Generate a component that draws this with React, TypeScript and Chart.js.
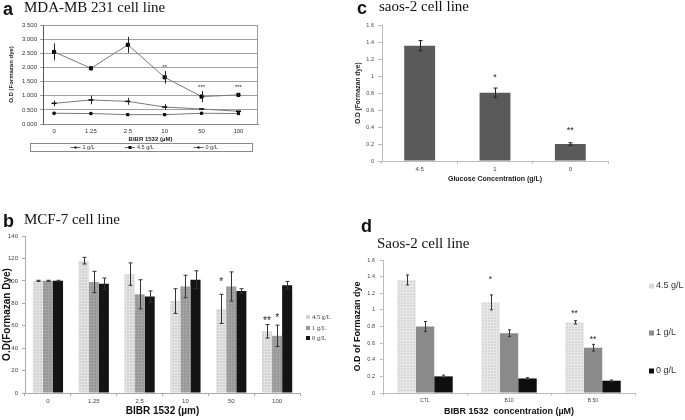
import React, { useEffect, useRef } from 'react';
import { Chart, registerables } from 'chart.js';
Chart.register(...registerables);
Chart.defaults.font.family = '"Liberation Sans", Arial, sans-serif';

// ---------- Panel a: MDA-MB 231 (line chart) ----------
const aCategories = ['0', '1.25', '2.5', '10', '50', '100'];
const aLabels = ['1 g/L', '4.5 g/L', '0 g/L'];
const a1g = [0.73, 0.85, 0.8, 0.6, 0.53, 0.45];
const a1gErr = [0.1, 0.15, 0.12, 0.1, 0.03, 0.03];
const a45g = [2.55, 1.97, 2.8, 1.65, 0.97, 1.03];
const a45gErr = [0.3, 0.08, 0.28, 0.22, 0.2, 0.06];
const a0g = [0.38, 0.37, 0.33, 0.33, 0.38, 0.37];
const a0gErr = [0.03, 0.03, 0.03, 0.03, 0.02, 0.02];
const aYTicks = [0, 0.5, 1, 1.5, 2, 2.5, 3, 3.5];
const aStars = [
  { ds: 1, i: 3, v: 1.99, text: '**' },
  { ds: 1, i: 4, v: 1.28, text: '***' },
  { ds: 1, i: 5, v: 1.28, text: '***' },
];

// ---------- Panel b: MCF-7 (grouped bars) ----------
const bCategories = ['0', '1.25', '2.5', '10', '50', '100'];
const bLabels = ['4.5 g/L', '1 g/L', '0 g/L'];
const b45 = [100, 118, 106, 82, 75, 55];
const b45Err = [0.5, 3, 10, 11, 13, 6];
const b1 = [100, 99, 88, 95, 95, 51];
const b1Err = [0.5, 9.5, 13, 10, 13, 9.5];
const b0 = [100, 97.5, 86, 101, 91, 96];
const b0Err = [0.5, 5, 5, 8, 2, 3.5];
const bStars = [
  { ds: 0, i: 4, v: 99, text: '*' },
  { ds: 0, i: 5, v: 64, text: '**' },
  { ds: 1, i: 5, v: 67, text: '*' },
];

// ---------- Panel c: saos-2 glucose ----------
const cCategories = ['4.5', '1', '0'];
const cValues = [1.36, 0.805, 0.2];
const cErr = [0.06, 0.055, 0.015];
const cStars = [
  { ds: 0, i: 1, v: 0.99, text: '*' },
  { ds: 0, i: 2, v: 0.36, text: '**' },
];

// ---------- Panel d: Saos-2 BIBR ----------
const dCategories = ['CTL', 'B10', 'B 50'];
const dLabels = ['4.5 g/L', '1 g/L', '0 g/L'];
const d45 = [1.36, 1.09, 0.85];
const d45Err = [0.06, 0.09, 0.02];
const d1 = [0.8, 0.72, 0.545];
const d1Err = [0.06, 0.04, 0.04];
const d0 = [0.2, 0.175, 0.148];
const d0Err = [0.015, 0.01, 0.008];
const dStars = [
  { ds: 0, i: 1, v: 1.36, text: '*' },
  { ds: 0, i: 2, v: 0.96, text: '**' },
  { ds: 1, i: 2, v: 0.64, text: '**' },
];

const SANS = '"Liberation Sans", Arial, sans-serif';
const SERIF = '"Liberation Serif", "Times New Roman", serif';

// ---------- plugins ----------
const errorBars = {
  id: 'errorBars',
  afterDatasetsDraw(chart: any, _a: any, opts: any) {
    const { ctx } = chart;
    const ys = chart.scales.y;
    ctx.save();
    ctx.strokeStyle = opts.color || '#000';
    ctx.lineWidth = opts.width || 1;
    chart.data.datasets.forEach((ds: any, di: number) => {
      if (!ds.errors) return;
      const meta = chart.getDatasetMeta(di);
      meta.data.forEach((el: any, i: number) => {
        const raw = ds.data[i];
        const v = typeof raw === 'number' ? raw : raw.y;
        const e = ds.errors[i];
        const x = Math.round(el.x) + 0.5;
        const y1 = ys.getPixelForValue(v + e);
        const y2 = ys.getPixelForValue(v - e);
        const c = opts.cap || 0;
        ctx.beginPath();
        ctx.moveTo(x, y1);
        ctx.lineTo(x, y2);
        if (c) {
          ctx.moveTo(x - c, y1);
          ctx.lineTo(x + c, y1);
          ctx.moveTo(x - c, y2);
          ctx.lineTo(x + c, y2);
        }
        ctx.stroke();
      });
    });
    ctx.restore();
  },
};

const starsPlugin = {
  id: 'stars',
  afterDatasetsDraw(chart: any, _a: any, opts: any) {
    const items = opts.items || [];
    const { ctx } = chart;
    const ys = chart.scales.y;
    ctx.save();
    ctx.font = opts.font || `10px ${SANS}`;
    ctx.fillStyle = opts.color || '#111';
    ctx.textAlign = 'center';
    ctx.textBaseline = 'middle';
    items.forEach((s: any) => {
      const el = chart.getDatasetMeta(s.ds).data[s.i];
      ctx.fillText(s.text, el.x, ys.getPixelForValue(s.v));
    });
    ctx.restore();
  },
};

const sideLegend = {
  id: 'sideLegend',
  afterDraw(chart: any, _a: any, opts: any) {
    if (!opts.ys) return;
    const { ctx } = chart;
    ctx.save();
    ctx.font = opts.font;
    ctx.textBaseline = 'middle';
    ctx.textAlign = 'left';
    chart.data.datasets.forEach((ds: any, k: number) => {
      const y = opts.ys[k];
      ctx.fillStyle = ds.legendColor;
      ctx.fillRect(opts.x, y - opts.box / 2, opts.box, opts.box);
      ctx.fillStyle = opts.color || '#222';
      ctx.fillText(ds.label, opts.x + opts.box + opts.gap, y);
    });
    ctx.restore();
  },
};

const lineLegend = {
  id: 'lineLegend',
  afterDraw(chart: any, _a: any, opts: any) {
    if (!opts.box) return;
    const { ctx } = chart;
    const [x0, y0, x1, y1] = opts.box;
    ctx.save();
    ctx.strokeStyle = '#8a8a8a';
    ctx.lineWidth = 1;
    ctx.strokeRect(x0 + 0.5, y0 + 0.5, x1 - x0, y1 - y0);
    const cy = (y0 + y1) / 2 + 0.5;
    ctx.font = opts.font;
    ctx.textBaseline = 'middle';
    chart.data.datasets.forEach((ds: any, k: number) => {
      const cx = opts.xs[k];
      ctx.strokeStyle = '#666';
      ctx.beginPath();
      ctx.moveTo(cx - 5, cy);
      ctx.lineTo(cx + 5, cy);
      ctx.stroke();
      ctx.fillStyle = '#000';
      const r = ds.legendMarker;
      ctx.fillRect(cx - r, cy - r, r * 2, r * 2);
      ctx.fillStyle = '#333';
      ctx.fillText(ds.label, cx + 7, cy);
    });
    ctx.restore();
  },
};

const framePlugin = {
  id: 'frame',
  afterDraw(chart: any, _a: any, opts: any) {
    if (!opts.color) return;
    const { ctx, chartArea: ca } = chart;
    ctx.save();
    ctx.strokeStyle = opts.color;
    ctx.lineWidth = 1;
    ctx.beginPath();
    ctx.moveTo(Math.round(ca.left) + 0.5, Math.round(ca.top) + 0.5);
    ctx.lineTo(Math.round(ca.right) - 0.5, Math.round(ca.top) + 0.5);
    ctx.lineTo(Math.round(ca.right) - 0.5, Math.round(ca.bottom) + 0.5);
    ctx.stroke();
    ctx.restore();
  },
};

function makePattern(bg: string, line: string) {
  const c = document.createElement('canvas');
  c.width = 3;
  c.height = 3;
  const g = c.getContext('2d')!;
  g.fillStyle = bg;
  g.fillRect(0, 0, 3, 3);
  g.fillStyle = line;
  g.fillRect(0, 0, 3, 1);
  g.fillRect(0, 0, 1, 3);
  return g.createPattern(c, 'repeat');
}

const PLUGINS = [errorBars, starsPlugin, sideLegend, lineLegend, framePlugin];

// ---------- configs ----------
function configA(): any {
  const pts = (arr: number[]) => arr.map((y, i) => ({ x: i, y }));
  return {
    type: 'line',
    data: {
      datasets: [
        {
          label: aLabels[0], data: pts(a1g), errors: a1gErr, borderColor: '#7a7a7a', borderWidth: 1,
          pointStyle: 'line', pointRadius: 2.5, pointBorderColor: '#000', pointBorderWidth: 1.5, legendMarker: 1,
        },
        {
          label: aLabels[1], data: pts(a45g), errors: a45gErr, borderColor: '#7a7a7a', borderWidth: 1,
          pointStyle: 'rect', pointRadius: 2.2, pointBackgroundColor: '#000', pointBorderColor: '#000', legendMarker: 1.5,
        },
        {
          label: aLabels[2], data: pts(a0g), errors: a0gErr, borderColor: '#7a7a7a', borderWidth: 1,
          pointStyle: 'rect', pointRadius: 1.6, pointBackgroundColor: '#000', pointBorderColor: '#000', legendMarker: 1,
        },
      ],
    },
    options: {
      animation: false,
      responsive: false,
      layout: { padding: { left: 0, right: 7, top: 7, bottom: 10 } },
      plugins: {
        legend: { display: false },
        tooltip: { enabled: false },
        errorBars: { color: '#222', width: 1, cap: 0 },
        stars: { items: aStars, font: `6px ${SANS}`, color: '#222' },
        lineLegend: { box: [30, 125, 252, 133], xs: [75.5, 130, 198.5], font: `5.5px ${SANS}` },
        frame: { color: '#9a9a9a' },
      },
      scales: {
        x: {
          type: 'linear', min: -0.3, max: 5.53,
          afterBuildTicks: (s: any) => { s.ticks = aCategories.map((_, i) => ({ value: i })); },
          afterFit: (s: any) => { s.height = 22; },
          ticks: { callback: (v: any) => aCategories[v] ?? '', font: { size: 6 }, color: '#333', padding: 4, maxRotation: 0, autoSkip: false },
          grid: { display: false, drawTicks: false },
          border: { color: '#888' },
          title: { display: true, text: 'BIBR 1532 (µM)', font: { size: 6, weight: 'bold' }, color: '#222', padding: { top: 0, bottom: 3.4 } },
        },
        y: {
          min: 0, max: 3.5,
          afterBuildTicks: (s: any) => { s.ticks = aYTicks.map((v) => ({ value: v })); },
          afterFit: (s: any) => { s.width = 43; },
          ticks: { callback: (v: any) => Number(v).toFixed(3), font: { size: 6 }, color: '#333', padding: 3 },
          grid: { color: '#a0a0a0', tickLength: 3 },
          border: { color: '#555' },
          title: { display: true, text: 'O.D (Formazan dye)', font: { size: 6, weight: 'bold' }, color: '#222', padding: { top: 7.4, bottom: 0 } },
        },
      },
    },
  };
}

function configB(): any {
  return {
    type: 'bar',
    data: {
      labels: bCategories,
      datasets: [
        { label: bLabels[0], data: b45, errors: b45Err, backgroundColor: makePattern('#d2d2d2', '#e4e4e4'), legendColor: '#d4d4d4' },
        { label: bLabels[1], data: b1, errors: b1Err, backgroundColor: makePattern('#969696', '#a4a4a4'), legendColor: '#969696' },
        { label: bLabels[2], data: b0, errors: b0Err, backgroundColor: '#141414', legendColor: '#141414' },
      ],
    },
    options: {
      animation: false,
      responsive: false,
      layout: { padding: { left: 0, right: 40, top: 8, bottom: 0 } },
      datasets: { bar: { categoryPercentage: 0.66, barPercentage: 1 } },
      plugins: {
        legend: { display: false },
        tooltip: { enabled: false },
        errorBars: { color: '#333', width: 1, cap: 2 },
        stars: { items: bStars, font: `10px ${SANS}`, color: '#222' },
        sideLegend: { x: 306, ys: [89, 100, 110], box: 4, gap: 2, font: `6.5px ${SERIF}`, color: '#333' },
      },
      scales: {
        x: {
          afterFit: (s: any) => { s.height = 27; },
          ticks: { font: { size: 6 }, color: '#444', padding: 2, maxRotation: 0 },
          grid: { drawOnChartArea: false, offset: true, tickLength: 3, color: '#aaa' },
          border: { color: '#aaa' },
          title: { display: true, text: 'BIBR 1532 (µm)', font: { size: 10, weight: 'bold' }, color: '#111', padding: { top: 0, bottom: 3 } },
        },
        y: {
          min: 0, max: 140,
          ticks: { stepSize: 20, font: { size: 6 }, color: '#444', padding: 4 },
          afterFit: (s: any) => { s.width = 25; },
          grid: { drawOnChartArea: false, tickLength: 3, color: '#aaa' },
          border: { color: '#aaa' },
          title: { display: true, text: 'O.D(Formazan Dye)', font: { size: 10, weight: 'bold' }, color: '#111', padding: { top: 1, bottom: 0 } },
        },
      },
    },
  };
}

function configC(): any {
  return {
    type: 'bar',
    data: {
      labels: cCategories,
      datasets: [{ label: 'O.D', data: cValues, errors: cErr, backgroundColor: '#5a5a5a' }],
    },
    options: {
      animation: false,
      responsive: false,
      layout: { padding: { left: 13, right: 77, top: 6, bottom: 3 } },
      datasets: { bar: { categoryPercentage: 1, barPercentage: 0.41 } },
      plugins: {
        legend: { display: false },
        tooltip: { enabled: false },
        errorBars: { color: '#222', width: 1, cap: 2 },
        stars: { items: cStars, font: `9px ${SANS}`, color: '#222' },
      },
      scales: {
        x: {
          afterFit: (s: any) => { s.height = 24; },
          ticks: { font: { size: 6 }, color: '#444', padding: 2, maxRotation: 0 },
          grid: { drawOnChartArea: false, offset: true, tickLength: 3, color: '#bbb' },
          border: { color: '#bbb' },
          title: { display: true, text: 'Glucose Concentration (g/L)', font: { size: 7, weight: 'bold' }, color: '#222', padding: { top: 0, bottom: 1.8 } },
        },
        y: {
          min: 0, max: 1.6,
          ticks: { stepSize: 0.2, font: { size: 5.5 }, color: '#444', padding: 4, callback: (v: any) => String(Math.round(Number(v) * 10) / 10) },
          afterFit: (s: any) => { s.width = 29; },
          grid: { drawOnChartArea: false, tickLength: 4, color: '#bbb' },
          border: { color: '#bbb' },
          title: { display: true, text: 'O.D (Formazan dye)', font: { size: 6.5, weight: 'bold' }, color: '#222', padding: { top: 1, bottom: 0 } },
        },
      },
    },
  };
}

function configD(): any {
  return {
    type: 'bar',
    data: {
      labels: dCategories,
      datasets: [
        { label: dLabels[0], data: d45, errors: d45Err, backgroundColor: makePattern('#d8d8d8', '#e8e8e8'), legendColor: '#d8d8d8' },
        { label: dLabels[1], data: d1, errors: d1Err, backgroundColor: '#8a8a8a', legendColor: '#8a8a8a' },
        { label: dLabels[2], data: d0, errors: d0Err, backgroundColor: '#0e0e0e', legendColor: '#0e0e0e' },
      ],
    },
    options: {
      animation: false,
      responsive: false,
      layout: { padding: { left: 0, right: 50, top: 10, bottom: 0 } },
      datasets: { bar: { categoryPercentage: 0.66, barPercentage: 1 } },
      plugins: {
        legend: { display: false },
        tooltip: { enabled: false },
        errorBars: { color: '#333', width: 1, cap: 1.5 },
        stars: { items: dStars, font: `8.5px ${SANS}`, color: '#222' },
        sideLegend: { x: 309, ys: [36, 83, 121], box: 5, gap: 2, font: `9px ${SANS}`, color: '#333' },
      },
      scales: {
        x: {
          afterFit: (s: any) => { s.height = 27; },
          ticks: { font: { size: 5 }, color: '#444', padding: 2, maxRotation: 0 },
          grid: { drawOnChartArea: false, offset: true, tickLength: 2.5, color: '#bbb' },
          border: { color: '#bbb' },
          title: { display: true, text: 'BIBR 1532  concentration (µM)', font: { size: 9, weight: 'bold' }, color: '#111', padding: { top: 0, bottom: 3 } },
        },
        y: {
          min: 0, max: 1.6,
          ticks: { stepSize: 0.2, font: { size: 5.5 }, color: '#444', padding: 5, callback: (v: any) => String(Math.round(Number(v) * 10) / 10) },
          afterFit: (s: any) => { s.width = 43; },
          grid: { drawOnChartArea: false, tickLength: 3, color: '#bbb' },
          border: { color: '#bbb' },
          title: { display: true, text: 'O.D of Formazan dye', font: { size: 9, weight: 'bold' }, color: '#111', padding: { top: 12.6, bottom: 0 } },
        },
      },
    },
  };
}

function ChartBox({ left, top, width, height, make }: any) {
  const ref = useRef<HTMLCanvasElement>(null);
  useEffect(() => {
    const cfg = make();
    cfg.plugins = PLUGINS;
    const chart = new Chart(ref.current as HTMLCanvasElement, cfg);
    return () => chart.destroy();
  }, []);
  return (
    <canvas
      ref={ref}
      width={width}
      height={height}
      style={{ position: 'absolute', left, top, width, height, display: 'block' }}
    />
  );
}

function Txt({ left, top, size, bold, serif, children }: any) {
  return (
    <div
      style={{
        position: 'absolute', left, top, fontSize: size, lineHeight: `${size}px`,
        fontWeight: bold ? 'bold' : 'normal', fontFamily: serif ? SERIF : SANS,
        whiteSpace: 'nowrap', color: '#111',
      }}
    >
      {children}
    </div>
  );
}

export default function App() {
  return (
    <div style={{ position: 'fixed', left: 0, top: 0, width: 685, height: 420, background: '#fff', overflow: 'hidden' }}>
      <ChartBox left={0} top={18} width={265} height={138} make={configA} />
      <ChartBox left={340} top={18} width={345} height={170} make={configC} />
      <ChartBox left={0} top={228} width={340} height={192} make={configB} />
      <ChartBox left={340} top={250} width={345} height={170} make={configD} />

      <Txt left={3} top={0} size={18} bold>a</Txt>
      <Txt left={24} top={0} size={15} serif>MDA-MB 231 cell line</Txt>
      <Txt left={357} top={-1} size={18} bold>c</Txt>
      <Txt left={379} top={-1} size={15} serif>saos-2 cell line</Txt>
      <Txt left={3} top={211.5} size={18} bold>b</Txt>
      <Txt left={24} top={212.4} size={15} serif>MCF-7 cell line</Txt>
      <Txt left={361} top={217} size={18} bold>d</Txt>
      <Txt left={377} top={236.4} size={15} serif>Saos-2 cell line</Txt>
    </div>
  );
}
